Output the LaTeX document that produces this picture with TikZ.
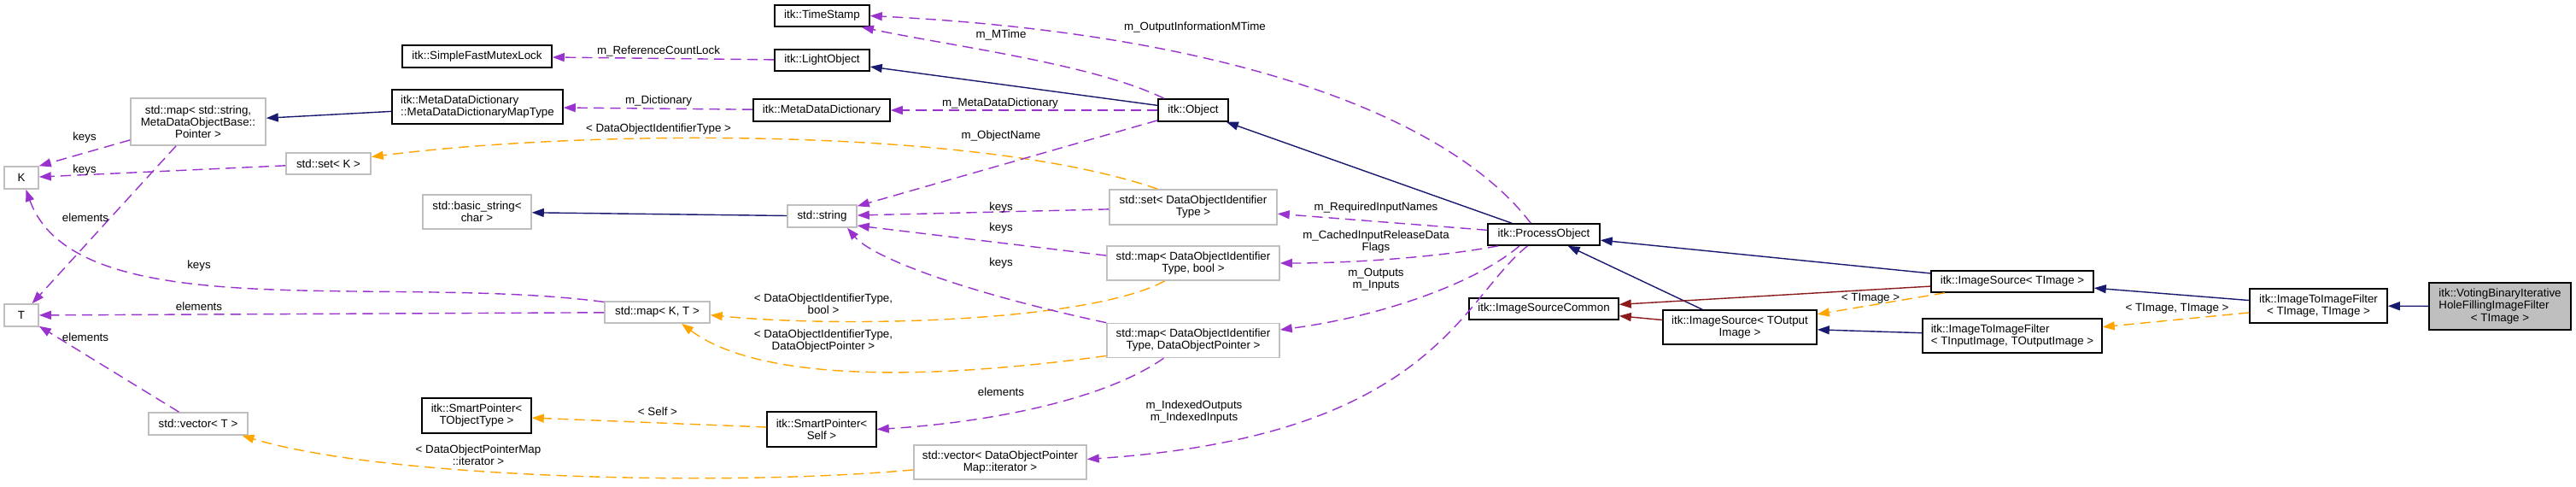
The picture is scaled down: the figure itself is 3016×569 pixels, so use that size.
\documentclass[tikz,border=0pt]{standalone}
\usepackage{fontspec}
\setmainfont{Liberation Sans}
\usetikzlibrary{arrows.meta}
\definecolor{inhblue}{HTML}{191970}
\definecolor{protred}{HTML}{8B1A1A}
\definecolor{usepurple}{HTML}{9A32CD}
\definecolor{tplorange}{HTML}{FFA500}
\definecolor{extgrey}{HTML}{BFBFBF}
\tikzset{
    box/.style={draw=black,line width=0.9pt,fill=white,inner sep=0pt,minimum height=0.52cm,align=center,font=\fontsize{7.6}{8}\selectfont},
    extbox/.style={box,draw=extgrey},
    arrow/.style={-{Triangle[length=0.28cm,width=0.2cm]},line width=0.8pt},
    inherit/.style={arrow,inhblue},
    protinherit/.style={arrow,protred},
    uses/.style={arrow,usepurple,dash pattern=on 7pt off 4pt},
    templ/.style={arrow,tplorange,dash pattern=on 7pt off 4pt},
    lbl/.style={align=center,inner sep=0pt,text=black,font=\fontsize{7.6}{8}\selectfont}
}
\begin{document}
\begin{tikzpicture}[x=0.02cm,y=-0.02cm]
    \useasboundingbox (0,0) rectangle (3016,569);
    % left column
    \node[extbox,minimum width=0.8cm] (K) at (25,208) {K};
    \node[extbox,minimum width=0.8cm] (T) at (25,369) {T};
    \node[extbox,minimum width=3.16cm,minimum height=1.1cm] (mapStr) at (232,142.5) {std::map< std::string,\\ MetaDataObjectBase::\\ Pointer >};
    \node[extbox,minimum width=1.98cm,minimum height=0.5cm] (setK) at (384.5,191.5) {std::set< K >};
    \node[extbox,minimum width=2.32cm] (vecT) at (232,496) {std::vector< T >};
    \node[box,minimum width=3.5cm] (mutex) at (558.5,66) {itk::SimpleFastMutexLock};
    \node[box,minimum width=4cm,minimum height=0.8cm,align=left] (mapType) at (559,125) {itk::MetaDataDictionary\\::MetaDataDictionaryMapType};
    \node[extbox,minimum width=2.54cm,minimum height=0.8cm] (bstr) at (558.5,248) {std::basic\_string<\\ char >};
    \node[box,minimum width=2.56cm,minimum height=0.82cm] (spTObj) at (558,486.5) {itk::SmartPointer<\\ TObjectType >};
    \node[extbox,minimum width=2.46cm,minimum height=0.5cm] (mapKT) at (769.5,365.5) {std::map< K, T >};
    % middle column
    \node[box,minimum width=2.22cm,minimum height=0.5cm] (ts) at (962.5,18.5) {itk::TimeStamp};
    \node[box,minimum width=2.22cm,minimum height=0.5cm] (light) at (962.5,70.5) {itk::LightObject};
    \node[box,minimum width=3.2cm] (mdd) at (962,129) {itk::MetaDataDictionary};
    \node[extbox,minimum width=1.62cm] (str) at (962.5,253) {std::string};
    \node[box,minimum width=2.56cm,minimum height=0.82cm] (spSelf) at (962,502.5) {itk::SmartPointer<\\ Self >};
    \node[extbox,minimum width=4.04cm,minimum height=0.8cm] (vecDOP) at (1171,541) {std::vector< DataObjectPointer\\ Map::iterator >};
    \node[box,minimum width=1.64cm] (obj) at (1397,129) {itk::Object};
    \node[extbox,minimum width=3.92cm,minimum height=0.82cm] (setDOIT) at (1397,242.5) {std::set< DataObjectIdentifier\\ Type >};
    \node[extbox,minimum width=4.04cm,minimum height=0.8cm] (mapBool) at (1397,308) {std::map< DataObjectIdentifier\\ Type, bool >};
    \node[extbox,minimum width=4.04cm,minimum height=0.8cm] (mapDOP) at (1397,398.5) {std::map< DataObjectIdentifier\\ Type, DataObjectPointer >};
    % right part
    \node[box,minimum width=2.62cm,minimum height=0.5cm] (procobj) at (1807.5,274.5) {itk::ProcessObject};
    \node[box,minimum width=3.5cm,minimum height=0.5cm] (isCommon) at (1807.5,361.5) {itk::ImageSourceCommon};
    \node[box,minimum width=3.6cm,minimum height=0.8cm] (isrcOut) at (2037,383) {itk::ImageSource< TOutput\\ Image >};
    \node[box,minimum width=3.8cm,minimum height=0.5cm] (isrcT) at (2356,329.5) {itk::ImageSource< TImage >};
    \node[box,minimum width=4.2cm,minimum height=0.8cm,align=left] (i2iInOut) at (2356,393) {itk::ImageToImageFilter\\< TInputImage, TOutputImage >};
    \node[box,minimum width=3.22cm,minimum height=0.8cm] (i2iT) at (2714.5,358) {itk::ImageToImageFilter\\ < TImage, TImage >};
    \node[box,fill=extgrey,minimum width=3.32cm,minimum height=1.1cm,align=left] (voting) at (2927,358.5) {itk::VotingBinaryIterative\\HoleFillingImageFilter\\\hspace*{0.75cm}< TImage >};

    % inheritance
    \draw[inherit] (obj) -- (light);
    \draw[inherit] (procobj) -- (obj);
    \draw[inherit] (str) -- (bstr);
    \draw[inherit] (mapType) -- (mapStr);
    \draw[inherit] (isrcT) -- (procobj);
    \draw[inherit] (isrcOut) -- (procobj);
    \draw[inherit] (i2iInOut) -- (isrcOut);
    \draw[inherit] (i2iT) -- (isrcT);
    \draw[inherit] (voting) -- (i2iT);
    \draw[protinherit] (isrcT) -- (isCommon);
    \draw[protinherit] (isrcOut) -- (isCommon);

    % template instances
    \draw[templ] (setDOIT.153) .. controls (1150,150) and (700,150) .. (setK.9)
        node[lbl] at (771,151) {< DataObjectIdentifierType >};
    \draw[templ] (mapBool.-148) .. controls (1280,375) and (1000,385) .. (mapKT.-3)
        node[lbl] at (964,356) {< DataObjectIdentifierType,\\ bool >};
    \draw[templ] (mapDOP.-170) .. controls (1050,450) and (880,440) .. (mapKT.-25)
        node[lbl] at (964,399) {< DataObjectIdentifierType,\\ DataObjectPointer >};
    \draw[templ] (vecDOP.-175) .. controls (850,570) and (450,560) .. (vecT.-15)
        node[lbl] at (560,533) {< DataObjectPointerMap\\ ::iterator >};
    \draw[templ] (spSelf) -- (spTObj) node[lbl] at (770,482) {< Self >};
    \draw[templ] (isrcT) -- (isrcOut) node[lbl] at (2190,349) {< TImage >};
    \draw[templ] (i2iT) -- (i2iInOut) node[lbl] at (2549,361) {< TImage, TImage >};

    % members
    \draw[uses] (light) -- (mutex) node[lbl] at (771,60) {m\_ReferenceCountLock};
    \draw[uses] (mdd) -- (mapType) node[lbl] at (771,118) {m\_Dictionary};
    \draw[uses] (obj.158) .. controls (1280,75) and (1120,55) .. (ts.-16)
        node[lbl] at (1172,41) {m\_MTime};
    \draw[uses] (procobj.139) .. controls (1700,140) and (1450,40) .. (ts.east)
        node[lbl] at (1399,32) {m\_OutputInformationMTime};
    \draw[uses] (obj) -- (mdd) node[lbl] at (1171,121) {m\_MetaDataDictionary};
    \draw[uses] (obj) -- (str) node[lbl] at (1172,159) {m\_ObjectName};
    \draw[uses] (setDOIT) -- (str) node[lbl] at (1172,243) {keys};
    \draw[uses] (mapBool.175) -- (str.-15) node[lbl] at (1172,267) {keys};
    \draw[uses] (mapDOP.north west) .. controls (1120,340) and (1020,300) .. (str.-25)
        node[lbl] at (1172,308) {keys};
    \draw[uses] (mapDOP.-149) .. controls (1290,470) and (1150,495) .. (spSelf.east)
        node[lbl] at (1172,459) {elements};
    \draw[uses] (procobj) -- (setDOIT) node[lbl] at (1611,243) {m\_RequiredInputNames};
    \draw[uses] (procobj.-166) .. controls (1690,300) and (1590,308) .. (mapBool.east)
        node[lbl] at (1611,283) {m\_CachedInputReleaseData\\ Flags};
    \draw[uses] (procobj.-155) .. controls (1730,330) and (1620,370) .. (mapDOP.7)
        node[lbl] at (1611,327) {m\_Outputs\\ m\_Inputs};
    \draw[uses] (procobj.-145) .. controls (1710,350) and (1680,510) .. (vecDOP.2)
        node[lbl] at (1398,482) {m\_IndexedOutputs\\ m\_IndexedInputs};
    \draw[uses] (mapStr.-165) -- (K.north east) node[lbl] at (99,161) {keys};
    \draw[uses] (setK) -- (K) node[lbl] at (99,199) {keys};
    \draw[uses] (mapStr) -- (T) node[lbl] at (100,255) {elements};
    \draw[uses] (mapKT.169) .. controls (450,320) and (90,385) .. (K.-69)
        node[lbl] at (233,311) {keys};
    \draw[uses] (mapKT) -- (T) node[lbl] at (233,359) {elements};
    \draw[uses] (vecT) -- (T) node[lbl] at (100,395) {elements};
\end{tikzpicture}
\end{document}
